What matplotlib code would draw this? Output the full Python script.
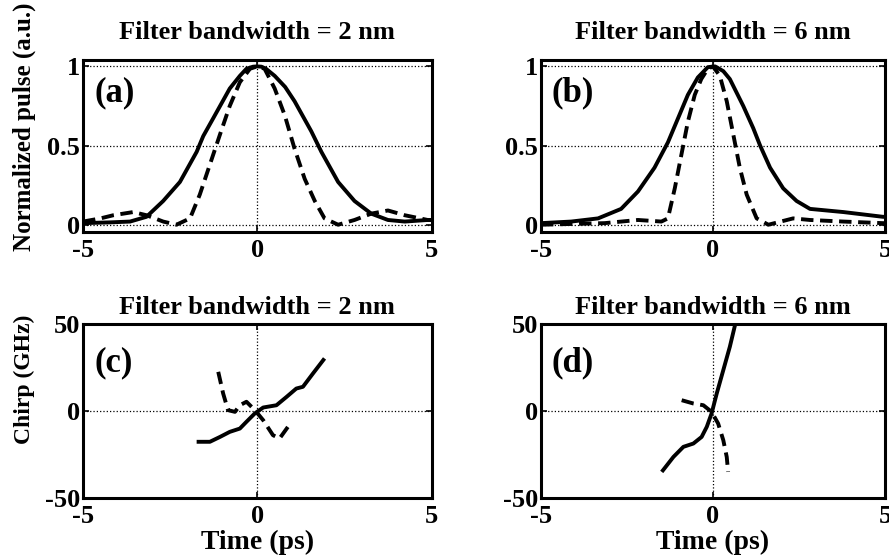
#!/usr/bin/python3


""" pulse shape and chirp after filtering, two filter bandwidths """


import matplotlib
matplotlib.use("Agg")
import matplotlib.pyplot as plt


FONT = "Liberation Serif"
LINE_WIDTH = 2.8
DASH = (0, (3.2, 1.7))

# panel (a) : filter bandwidth 2 nm, pulse
TIME_A_SOLID = [-5.0, -4.2, -3.65, -3.18, -2.7, -2.22, -1.74, -1.55, -1.27,
                -0.79, -0.5, -0.31, -0.12, 0.0, 0.12, 0.25, 0.5, 0.8, 1.07,
                1.55, 1.84, 2.32, 2.79, 3.27, 3.75, 4.23, 4.89, 5.0]
PULSE_A_SOLID = [0.01, 0.015, 0.02, 0.05, 0.15, 0.27, 0.46, 0.56, 0.67,
                 0.86, 0.94, 0.985, 0.998, 1.0, 0.998, 0.985, 0.94, 0.87,
                 0.78, 0.59, 0.46, 0.27, 0.15, 0.07, 0.03, 0.02, 0.03, 0.03]
TIME_A_DASH = [-5.0, -4.5, -4.13, -3.56, -3.18, -2.7, -2.32, -1.93, -1.65,
               -1.36, -1.07, -0.79, -0.5, -0.21, 0.0, 0.21, 0.5, 0.79, 1.07,
               1.36, 1.65, 1.93, 2.32, 2.79, 3.27, 3.75, 4.23, 4.89, 5.0]
PULSE_A_DASH = [0.02, 0.04, 0.06, 0.08, 0.06, 0.02, 0.0, 0.04, 0.19,
                0.38, 0.57, 0.75, 0.9, 0.985, 1.0, 0.985, 0.86, 0.69, 0.48,
                0.29, 0.15, 0.04, 0.0, 0.03, 0.07, 0.09, 0.06, 0.03, 0.03]

# panel (b) : filter bandwidth 6 nm, pulse
TIME_B_SOLID = [-5.0, -4.12, -3.34, -2.67, -2.18, -1.7, -1.31, -1.02, -0.73,
                -0.44, -0.15, 0.06, 0.3, 0.49, 0.88, 1.17, 1.37, 1.66, 2.04,
                2.43, 2.82, 3.79, 4.94, 5.0]
PULSE_B_SOLID = [0.01, 0.02, 0.04, 0.1, 0.21, 0.36, 0.52, 0.67, 0.82,
                 0.93, 0.995, 1.0, 0.97, 0.92, 0.75, 0.61, 0.5, 0.36, 0.23,
                 0.15, 0.1, 0.08, 0.05, 0.05]
TIME_B_DASH = [-5.0, -3.15, -2.18, -1.5, -1.31, -1.11, -0.92, -0.73, -0.53,
               -0.34, -0.15, 0.0, 0.2, 0.4, 0.59, 0.78, 0.98, 1.27, 1.61,
               2.33, 2.82, 3.79, 4.94, 5.0]
PULSE_B_DASH = [0.0, 0.01, 0.03, 0.02, 0.04, 0.23, 0.44, 0.65, 0.82,
                0.92, 0.985, 1.0, 0.94, 0.78, 0.57, 0.36, 0.19, 0.04, 0.0,
                0.04, 0.03, 0.02, 0.01, 0.01]

# panel (c) : filter bandwidth 2 nm, chirp
TIME_C_SOLID = [-1.74, -1.36, -1.07, -0.79, -0.5, -0.31, -0.07, 0.17, 0.55,
                0.84, 1.12, 1.31, 1.6, 1.93]
CHIRP_C_SOLID = [-17.6, -17.6, -14.8, -11.9, -10.0, -6.1, -1.3, 2.1, 3.4,
                 8.2, 13.0, 14.0, 21.7, 30.3]
TIME_C_DASH = [-1.12, -0.98, -0.84, -0.64, -0.5, -0.31, -0.07, 0.17, 0.45,
               0.64, 0.88]
CHIRP_C_DASH = [22.6, 10.2, 0.6, -0.4, 3.4, 5.4, 0.6, -5.2, -13.8,
                -15.7, -9.0]

# panel (d) : filter bandwidth 6 nm, chirp
TIME_D_SOLID = [-1.49, -1.15, -0.86, -0.57, -0.33, -0.18, -0.04, 0.11, 0.3,
                0.49, 0.64]
CHIRP_D_SOLID = [-34.9, -26.3, -20.5, -18.6, -14.8, -9.0, -1.3, 10.2, 23.6,
                 37.0, 49.4]
TIME_D_DASH = [-0.91, -0.57, -0.28, -0.04, 0.15, 0.3, 0.4, 0.44]
CHIRP_D_DASH = [6.3, 4.4, 3.4, -0.4, -7.1, -16.7, -26.3, -34.9]

TITLES = ["Filter bandwidth = 2 nm", "Filter bandwidth = 6 nm"]
PANEL_LABELS = ["(a)", "(b)", "(c)", "(d)"]
X_TICKS = [-5, 0, 5]
PULSE_TICKS = [0, 0.5, 1]
PULSE_TICK_LABELS = ["0", "0.5", "1"]
CHIRP_TICKS = [-50, 0, 50]


def style_axes(axes, y_ticks, y_tick_labels):
    """ matlab like look : box, inner ticks, dotted grid """
    axes.set_xlim(-5, 5)
    axes.set_xticks(X_TICKS)
    axes.set_xticklabels([str(a_tick) for a_tick in X_TICKS])
    axes.set_yticks(y_ticks)
    axes.set_yticklabels(y_tick_labels)
    axes.tick_params(direction="in", length=4, width=1.2,
                     top=True, right=True, labelsize=19)
    axes.tick_params(axis="x", pad=5)
    axes.tick_params(axis="y", pad=2)
    for a_label in axes.get_xticklabels() + axes.get_yticklabels():
        a_label.set_fontweight("bold")
    for a_spine in axes.spines.values():
        a_spine.set_linewidth(2.2)
    axes.grid(True, color="black", linestyle=":", linewidth=0.9)


def draw_panel(axes, solid, dashed, label, label_y):
    """ draw one solid and one dashed curve with panel label """
    axes.plot(solid[0], solid[1], "-", color="black",
              linewidth=LINE_WIDTH, solid_capstyle="butt",
              solid_joinstyle="round")
    axes.plot(dashed[0], dashed[1], color="black", linestyle=DASH,
              linewidth=LINE_WIDTH, dash_capstyle="butt")
    axes.text(-4.68, label_y, label, fontsize=25, fontweight="bold",
              ha="left", va="center")


if __name__ == "__main__":
    plt.rcParams["font.family"] = FONT
    plt.rcParams["font.weight"] = "bold"
    FIGURE = plt.figure(figsize=(8.89, 5.56), dpi=100, facecolor="white")

    AX_A = FIGURE.add_axes([0.0934, 0.583, 0.392, 0.309])
    AX_B = FIGURE.add_axes([0.6085, 0.583, 0.387, 0.309])
    AX_C = FIGURE.add_axes([0.0934, 0.104, 0.392, 0.313])
    AX_D = FIGURE.add_axes([0.6085, 0.104, 0.387, 0.313])

    draw_panel(AX_A, (TIME_A_SOLID, PULSE_A_SOLID),
               (TIME_A_DASH, PULSE_A_DASH), PANEL_LABELS[0], 0.83)
    draw_panel(AX_B, (TIME_B_SOLID, PULSE_B_SOLID),
               (TIME_B_DASH, PULSE_B_DASH), PANEL_LABELS[1], 0.83)
    draw_panel(AX_C, (TIME_C_SOLID, CHIRP_C_SOLID),
               (TIME_C_DASH, CHIRP_C_DASH), PANEL_LABELS[2], 28)
    draw_panel(AX_D, (TIME_D_SOLID, CHIRP_D_SOLID),
               (TIME_D_DASH, CHIRP_D_DASH), PANEL_LABELS[3], 28)

    for an_axes in [AX_A, AX_B]:
        style_axes(an_axes, PULSE_TICKS, PULSE_TICK_LABELS)
        an_axes.set_ylim(-0.045, 1.04)
        an_axes.set_title(TITLES[[AX_A, AX_B].index(an_axes)],
                          fontsize=19, fontweight="bold", pad=15)
    for an_axes in [AX_C, AX_D]:
        style_axes(an_axes, CHIRP_TICKS,
                   [str(a_tick) for a_tick in CHIRP_TICKS])
        an_axes.set_ylim(-50, 50)
        an_axes.set_title(TITLES[[AX_C, AX_D].index(an_axes)],
                          fontsize=19, fontweight="bold", pad=7)

    FIGURE.text(0.027, 0.772, "Normalized pulse (a.u.)", rotation=90,
                fontsize=18, fontweight="bold", ha="center", va="center")
    FIGURE.text(0.027, 0.317, "Chirp (GHz)", rotation=90,
                fontsize=17, fontweight="bold", ha="center", va="center")
    FIGURE.text(0.29, 0.025, "Time (ps)", fontsize=20,
                fontweight="bold", ha="center", va="center")
    FIGURE.text(0.802, 0.025, "Time (ps)", fontsize=20,
                fontweight="bold", ha="center", va="center")

    FIGURE.savefig("out.png", dpi=100, facecolor="white")
